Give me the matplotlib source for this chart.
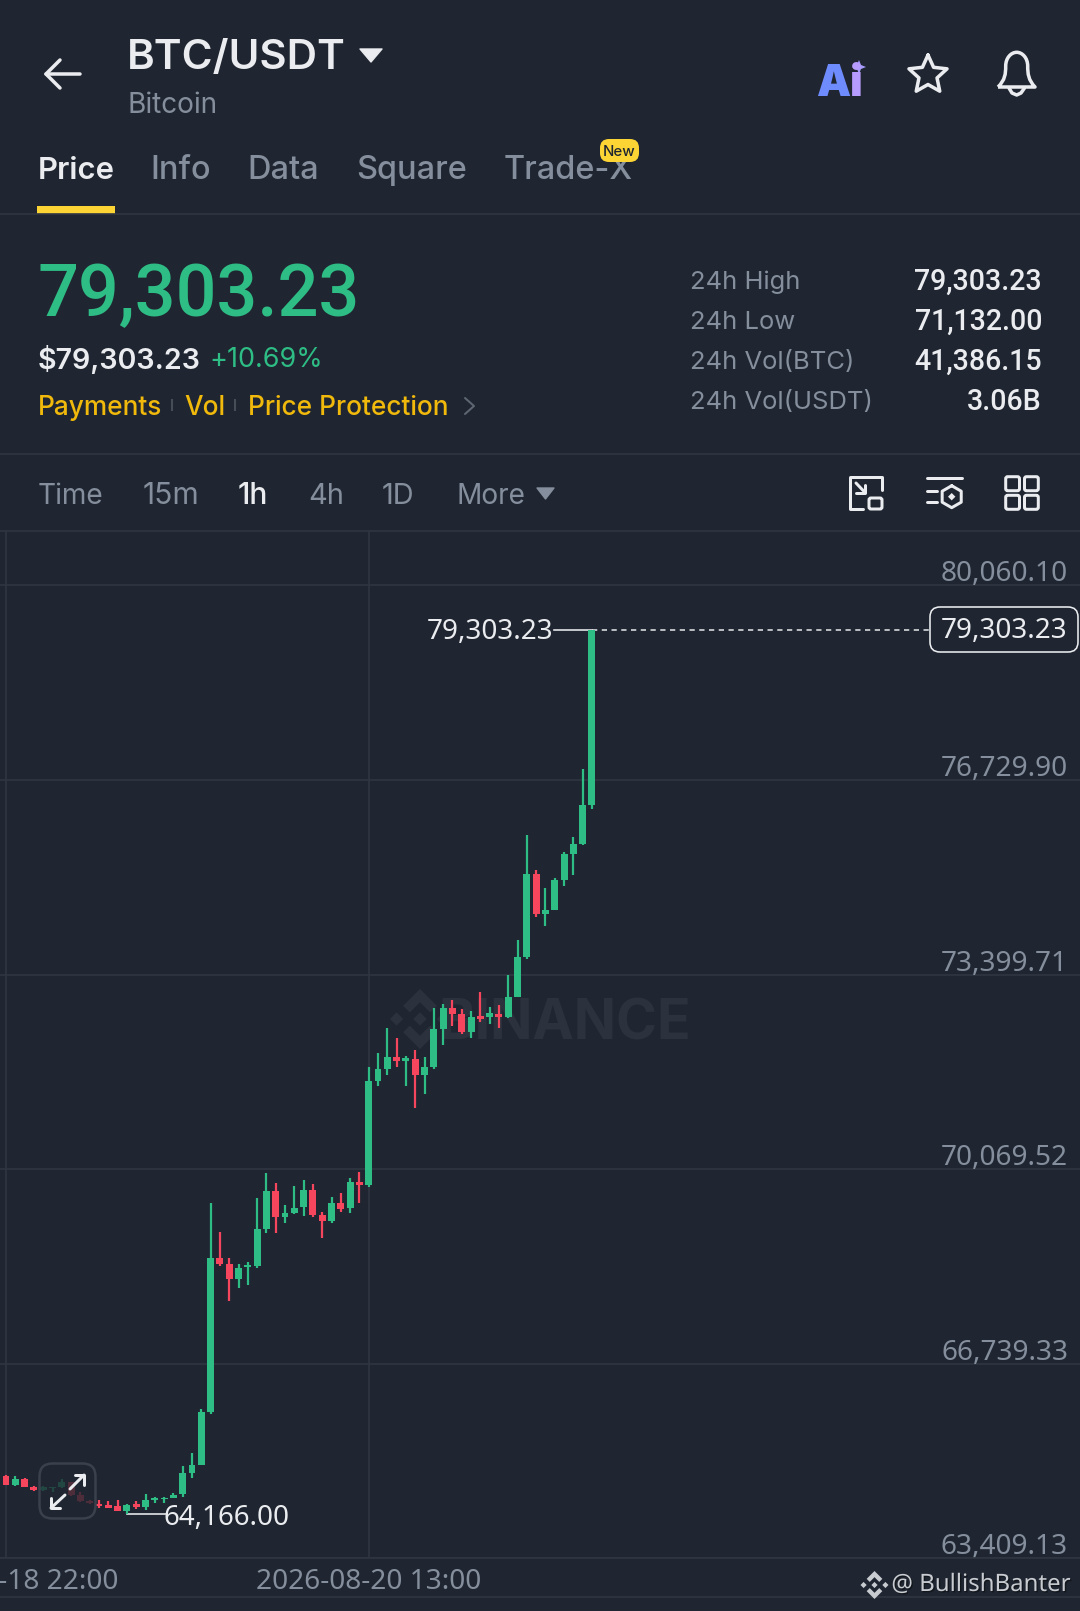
import numpy as np
import matplotlib
matplotlib.use("Agg")
import matplotlib.pyplot as plt
import matplotlib.patheffects as pe
from matplotlib.patches import FancyBboxPatch, Polygon, PathPatch
from matplotlib.path import Path
from matplotlib.transforms import ScaledTranslation

W, H = 1080, 1611
BG = "#1F2631"
GRID = "#2F3641"
GREEN = "#2EBD85"
RED = "#F6465D"
GRAY = "#848E9C"
WHITE = "#EAECEF"
GOLD = "#F0B90B"
YELLOW = "#FCD535"

# candles, one per hour, oldest first (first one is cut by the left edge)
opens = [64844, 64821, 64656, 64758, 64627, 64570, 64604, 64627, 64713, 64485,
         64393, 64342, 64313, 64308, 64222, 64336, 64279, 64405, 64416, 64445,
         64502, 64867, 64998, 65911, 68542, 68450, 68188, 68399, 68416, 69038,
         69700, 69255, 69318, 69415, 69711, 69289, 69186, 69483, 69397, 69843,
         69803, 71583, 71783, 71988, 71920, 71948, 71686, 71817, 72462, 72827,
         72730, 72422, 72684, 72673, 72730, 72667, 73015, 73700, 75121, 74436,
         74505, 75024, 75469, 75640, 76308]
closes = [64793, 64661, 64764, 64633, 64570, 64621, 64627, 64713, 64485, 64388,
          64348, 64308, 64273, 64222, 64325, 64291, 64399, 64433, 64445, 64496,
          64867, 64998, 65911, 68542, 68450, 68188, 68382, 68433, 69038, 69700,
          69249, 69323, 69409, 69711, 69289, 69186, 69483, 69392, 69843, 69803,
          71583, 71783, 71988, 71920, 71965, 71686, 71817, 72462, 72827, 72730,
          72422, 72679, 72639, 72736, 72673, 73015, 73700, 75121, 74430, 74505,
          75018, 75469, 75640, 76302, 79303.23]
highs = [64861, 64833, 64810, 64776, 64639, 64644, 64633, 64764, 64719, 64536,
         64405, 64399, 64382, 64399, 64330, 64388, 64502, 64456, 64456, 64525,
         64981, 65209, 65962, 69494, 68992, 68542, 68445, 68473, 69574, 69997,
         69831, 69449, 69785, 69888, 69820, 69335, 69591, 69660, 69917, 70019,
         71817, 72057, 72485, 72319, 72011, 72102, 71983, 72827, 72901, 72964,
         72804, 72770, 73107, 72844, 72878, 73392, 73985, 75783, 75195, 74881,
         75052, 75497, 75754, 76913, 79303.23]
lows = [64781, 64656, 64639, 64627, 64553, 64559, 64547, 64616, 64479, 64376,
        64342, 64262, 64268, 64216, 64166, 64251, 64239, 64348, 64353, 64439,
        64456, 64781, 64998, 65877, 68405, 67811, 68028, 68091, 68376, 68975,
        68969, 69146, 69306, 69272, 69255, 68890, 69152, 69335, 69323, 69494,
        69768, 71492, 71680, 71811, 71492, 71115, 71355, 71777, 72194, 72519,
        72382, 72319, 72587, 72548, 72485, 72662, 73015, 73660, 74379, 74236,
        74505, 74915, 75098, 75612, 76234]

price_ticks = [63409.13, 66739.33, 70069.52, 73399.71, 76729.90, 80060.10]
price_labels = ["63,409.13", "66,739.33", "70,069.52", "73,399.71", "76,729.90", "80,060.10"]
time_ticks = [1, 40]
time_labels = ["2026-08-18 22:00", "2026-08-20 13:00"]
last_price = 79303.23
last_label = "79,303.23"
low_price = 64166.00
low_label = "64,166.00"

tabs = ["Price", "Info", "Data", "Square", "Trade-X"]
intervals = ["Time", "15m", "1h", "4h", "1D", "More"]
stat_names = ["24h High", "24h Low", "24h Vol(BTC)", "24h Vol(USDT)"]
stat_values = ["79,303.23", "71,132.00", "41,386.15", "3.06B"]


def fs(px):
    return px * 0.72


def overlay(z):
    a = fig.add_axes([0, 0, 1, 1], zorder=z)
    a.set_xlim(0, W)
    a.set_ylim(H, 0)
    a.axis("off")
    return a


def logo(a, cx, cy, r, color, z=1):
    top = [(0, -1), (.56, -.44), (.34, -.22), (0, -.56), (-.34, -.22), (-.56, -.44)]
    bits = [top, [(x, -y) for x, y in top]]
    for dx in (-.78, 0, .78):
        bits.append([(dx, -.22), (dx + .22, 0), (dx, .22), (dx - .22, 0)])
    for b in bits:
        a.add_patch(Polygon([(cx + x * r, cy + y * r) for x, y in b], fc=color, ec="none", zorder=z))


def line(a, xs, ys, color=WHITE, lw=3, z=3):
    a.plot(xs, ys, color=color, lw=fs(lw), solid_capstyle="round", solid_joinstyle="round", zorder=z)


plt.rcParams["font.family"] = ["Inter", "DejaVu Sans"]
fig = plt.figure(figsize=(W / 100, H / 100), dpi=100, facecolor=BG)

back = overlay(0)
ax = fig.add_axes([0, 1 - 1558.3 / H, 1, (1558.3 - 531) / H], zorder=1)
top = overlay(2)

# header
line(back, [46, 80], [74, 74], lw=3.5)
line(back, [60, 46, 60], [60, 74, 88], lw=3.5)
back.text(127, 58, "BTC/USDT", color=WHITE, fontsize=fs(42), fontweight="semibold", va="center")
back.add_patch(Polygon([(360, 49), (382, 49), (371, 62)], fc=WHITE, ec=WHITE, lw=1, joinstyle="round"))
back.text(128, 105.5, "Bitcoin", color=GRAY, fontsize=fs(28), va="center")

# ai, star, bell
back.text(816, 96, "A", color="#6F8CFF", fontsize=fs(43), fontweight="black", va="baseline")
back.text(850, 96, "i", color="#B79CFF", fontsize=fs(43), fontweight="black", va="baseline")
back.add_patch(Polygon([(859, 60), (861, 65), (866, 67), (861, 69), (859, 74), (857, 69), (852, 67), (857, 65)],
                       fc="#A99CFF", ec="none"))
ang = np.linspace(-np.pi / 2, 1.5 * np.pi, 11)
rad = np.where(np.arange(11) % 2 == 0, 20, 9.5)
line(back, 928 + rad * np.cos(ang), 75 + rad * np.sin(ang), lw=3.5)
bell = Path([(998, 87), (1005, 80), (1005.7, 74), (1005.7, 66), (1005.7, 58), (1011, 52.3), (1016.7, 52.3),
             (1022.4, 52.3), (1027.7, 58), (1027.7, 66), (1027.7, 74), (1028.4, 80), (1035, 87), (998, 87)],
            [Path.MOVETO] + [Path.CURVE4] * 12 + [Path.LINETO])
back.add_patch(PathPatch(bell, fc="none", ec=WHITE, lw=fs(3.5), joinstyle="round"))
line(back, [1009, 1012, 1016.7, 1021, 1024.5], [88, 93, 95, 93, 88], lw=3.5)

# tabs
for name, x, c, wt, size in zip(tabs, [37.5, 150.5, 247.5, 356.5, 503.5], [WHITE] + [GRAY] * 4,
                                ["semibold"] + ["medium"] * 4, [31, 32.5, 32.5, 32.5, 32.5]):
    back.text(x, 179, name, color=c, fontsize=fs(size), fontweight=wt, va="baseline")
back.add_patch(FancyBboxPatch((600, 139), 39, 23, boxstyle="round,pad=0,rounding_size=9", fc=YELLOW, ec="none", zorder=4))
back.text(619.5, 151.5, "New", color="#202630", fontsize=fs(15), fontweight="medium", ha="center", va="center", zorder=5)
back.fill_between([37, 115], 206, 214, color=YELLOW, lw=0)
back.plot([0, W], [214, 214], color=GRID, lw=1.2)

# price block
back.text(38, 297, "79,303.23", color=GREEN, fontsize=fs(72), fontweight="medium", family=["Roboto"], va="center")
back.text(38, 360, "$79,303.23", color=WHITE, fontsize=fs(28.6), fontweight="semibold", va="center")
back.text(209, 360, "+10.69%", color=GREEN, fontsize=fs(27), va="center")
for name, x in zip(["Payments", "Vol", "Price Protection"], [38, 184.5, 248.5]):
    back.text(x, 408, name, color=GOLD, fontsize=fs(26.2), fontweight="medium", va="center")
back.plot([172, 172], [400, 410], color="#474D57", lw=1.5)
back.plot([235, 235], [400, 410], color="#474D57", lw=1.5)
line(back, [465, 474, 465], [398, 406, 414], color="#5E6673", lw=2)
for i, (name, val) in enumerate(zip(stat_names, stat_values)):
    y = 280.5 + 40.1 * i
    back.text(690, y + 2, name, color=GRAY, fontsize=fs(25.6), va="center")
    back.text(1042, y + 1, val, color=WHITE, fontsize=fs(28.5), fontweight="medium", family=["Roboto"], ha="right", va="center")
back.plot([0, W], [454, 454], color=GRID, lw=1.2)

# interval row
for name, x, c, size in zip(intervals, [38, 142.5, 238, 308.5, 381.5, 456.5], [GRAY, GRAY, WHITE, GRAY, GRAY, GRAY],
                            [28, 30, 30, 29, 29, 28]):
    back.text(x, 496.5, name, color=c, fontsize=fs(size), fontweight="medium" if c == WHITE else "normal", va="center")
back.add_patch(Polygon([(537, 488), (554, 488), (545.5, 499)], fc=GRAY, ec=GRAY, lw=1, joinstyle="round"))

line(back, [863, 850, 850, 882, 882], [509, 509, 477, 477, 490])
line(back, [856, 865], [483, 492.5])
line(back, [856, 865, 865], [493, 493, 485])
back.add_patch(FancyBboxPatch((869, 498), 13, 11, boxstyle="round,pad=0,rounding_size=2", fc="none", ec=WHITE, lw=fs(3)))
line(back, [927, 961.5], [478.3, 478.3])
line(back, [927, 936.5], [490.7, 490.7])
line(back, [927, 936.5], [502, 502])
ang = np.linspace(-np.pi / 2, 1.5 * np.pi, 7)
line(back, 951.7 + 11 * np.cos(ang), 496.7 + 11 * np.sin(ang))
back.add_patch(Polygon([(951.7, 493), (955.4, 496.7), (951.7, 500.4), (948, 496.7)], fc=WHITE, ec="none"))
for x in (1005.7, 1024.5):
    for y in (476.7, 495.3):
        back.add_patch(FancyBboxPatch((x, y), 13.8, 14, boxstyle="round,pad=0,rounding_size=2", fc="none", ec=WHITE, lw=fs(3)))

# watermark behind the candles
logo(back, 420, 1019, 30, "#2B313D")
back.text(438, 1024, "BINANCE", color="#2B313D", fontsize=fs(55.5), fontweight="bold", va="center", zorder=1)

# chart
ax.patch.set_visible(False)
ax.set_xlim(0.355, 116.48)
ax.set_ylim(63409.13, 80991.6)
ax.set_yticks(price_ticks)
ax.set_yticklabels(price_labels)
ax.set_xticks(time_ticks)
ax.set_xticklabels(time_labels)
ax.grid(True, color=GRID, lw=1.2)
ax.set_axisbelow(True)
ax.tick_params(axis="y", length=0, labelleft=False, labelright=True, pad=-8.6, labelcolor=GRAY)
ax.tick_params(axis="x", length=0, pad=7, labelcolor=GRAY)
# labels sit a little lower than va=bottom puts them
down = ScaledTranslation(0, -3 / 100, fig.dpi_scale_trans)
for lab in ax.get_yticklabels():
    lab.set(ha="right", va="bottom", family=["Noto Sans"], fontsize=fs(28))
    lab.set_transform(lab.get_transform() + down)
for lab in ax.get_xticklabels():
    lab.set(family=["Noto Sans"], fontsize=fs(28))
for s in ("left", "right"):
    ax.spines[s].set_visible(False)
for s in ("top", "bottom"):
    ax.spines[s].set_color(GRID)
    ax.spines[s].set_linewidth(1.2)

o = np.array(opens, dtype=float)
c = np.array(closes, dtype=float)
colors = np.where(c >= o, GREEN, RED)
idx = np.arange(len(o))
ax.vlines(idx, lows, highs, colors=colors, lw=fs(2.2), zorder=3)
ax.bar(idx, np.abs(c - o), bottom=np.minimum(o, c), width=0.75, color=colors, lw=0, zorder=3)

# high / low / last price markers
last_i = idx[-1]
ax.plot([last_i - 4.1, last_i], [last_price, last_price], color=WHITE, lw=fs(1.6), zorder=2)
ax.plot([last_i, 100.4], [last_price, last_price], color=WHITE, lw=fs(1.5), dashes=(3.5, 3), zorder=2)
ax.annotate(last_label, (last_i - 4.1, last_price), xytext=(0, -1.5), textcoords="offset points", ha="right",
            va="center", color=WHITE, fontsize=fs(27.8), family=["Noto Sans"])
low_i = lows.index(min(lows))
ax.plot([low_i, low_i + 4.2], [low_price, low_price], color=WHITE, lw=fs(1.6), zorder=2)
ax.annotate(low_label, (low_i + 4.2, low_price), xytext=(-1.5, -3), textcoords="offset points", ha="left",
            va="center", color=WHITE, fontsize=fs(27.8), family=["Noto Sans"])

top.add_patch(FancyBboxPatch((930, 607), 148, 45, boxstyle="round,pad=0,rounding_size=10", fc=BG, ec=WHITE, lw=fs(1.6)))
top.text(1067, 631, last_label, color=WHITE, fontsize=fs(27.8), family=["Noto Sans"], ha="right", va="center")

# expand button
top.add_patch(FancyBboxPatch((39.5, 1463.5), 56, 55, boxstyle="round,pad=0,rounding_size=13",
                             fc=(0.12, 0.149, 0.192, 0.78), ec="#3A404C", lw=fs(2.5)))
line(top, [70, 84], [1489, 1475])
line(top, [75, 84, 84], [1475, 1475, 1485])
line(top, [65, 51], [1495, 1508])
line(top, [51, 51, 60], [1498, 1508, 1508])

# footer
back.plot([0, W], [1597, 1597], color=GRID, lw=1.2)
logo(top, 874.5, 1585, 14, "#C8CBD0")
top.text(1071, 1585, "@ BullishBanter", color="#C8CBD0", fontsize=fs(24), family=["Noto Sans"], ha="right", va="center",
         path_effects=[pe.withSimplePatchShadow(offset=(1, -1), shadow_rgbFace="#000000", alpha=0.4)])

fig.savefig("out.png", dpi=100, facecolor=BG)
